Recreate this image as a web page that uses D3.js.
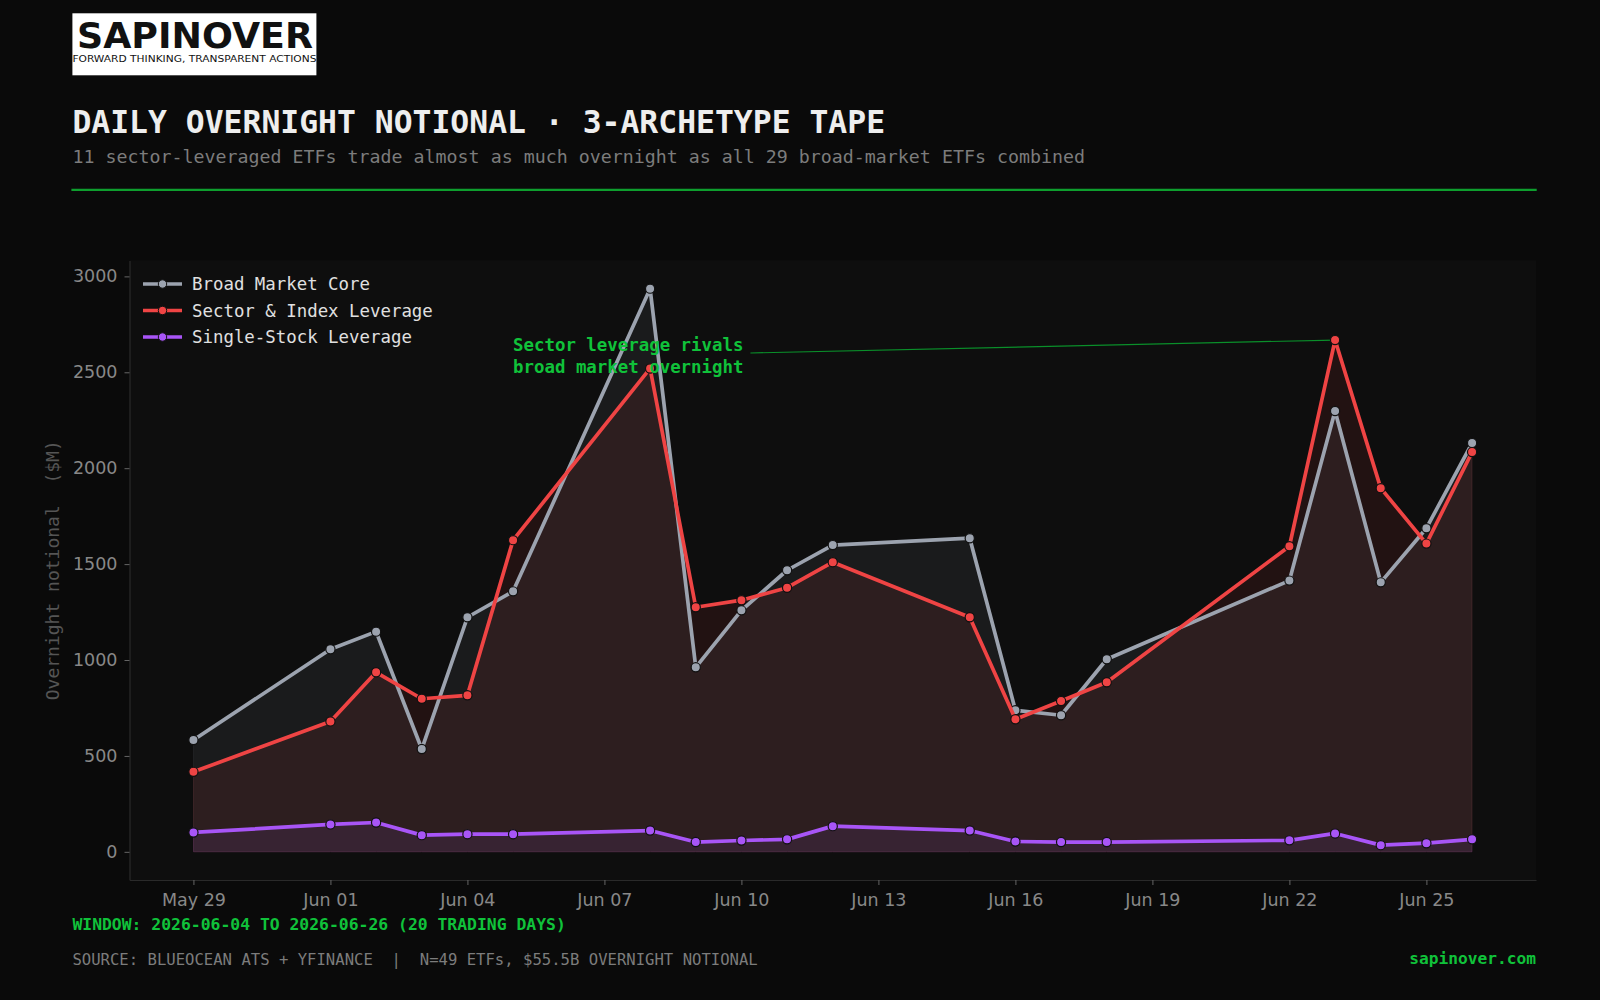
<!DOCTYPE html>
<html>
<head>
<meta charset="utf-8">
<script src="https://cdn.jsdelivr.net/npm/d3@7"></script>
<style>
  html, body { margin: 0; padding: 0; background: #0a0a0a; }
  svg { display: block; }
</style>
</head>
<body>
<svg id="chart" width="1600" height="1000"></svg>
<script>
// trading days shown on the tape (Jun 19 holiday skipped)
const dates = ["2026-05-29", "2026-06-01", "2026-06-02", "2026-06-03", "2026-06-04",
  "2026-06-05", "2026-06-08", "2026-06-09", "2026-06-10", "2026-06-11", "2026-06-12",
  "2026-06-15", "2026-06-16", "2026-06-17", "2026-06-18", "2026-06-22", "2026-06-23",
  "2026-06-24", "2026-06-25", "2026-06-26"];

// overnight notional, $M
const broadMarket = [583, 1056, 1148, 536, 1223, 1358, 2936, 962, 1259, 1468, 1599,
  1635, 738, 712, 1004, 1414, 2298, 1405, 1687, 2131];
const sectorLeverage = [417, 680, 936, 798, 816, 1625, 2520, 1275, 1312, 1377, 1510,
  1223, 691, 786, 884, 1593, 2668, 1896, 1607, 2084];
const singleStock = [101, 143, 153, 87, 92, 92, 111, 51, 59, 65, 134,
  111, 54, 51, 51, 60, 96, 35, 45, 65];

const seriesNames = ["Broad Market Core", "Sector & Index Leverage", "Single-Stock Leverage"];
const seriesColors = ["#9ca3af", "#ef4444", "#a855f7"];

const xTickDates = ["2026-05-29", "2026-06-01", "2026-06-04", "2026-06-07", "2026-06-10",
  "2026-06-13", "2026-06-16", "2026-06-19", "2026-06-22", "2026-06-25"];
const yTicks = [0, 500, 1000, 1500, 2000, 2500, 3000];

const annotationLines = ["Sector leverage rivals", "broad market overnight"];
const annotationAnchor = { date: "2026-06-05", value: 2585 };
const annotationTarget = { date: "2026-06-23", series: 1 };

const MONO = "'DejaVu Sans Mono', monospace";
const SANS = "'DejaVu Sans', sans-serif";
const GREEN = "#10c23a";

window.onload = main;

function main() {
  const svg = d3.select("#chart");
  const parse = d3.timeParse("%Y-%m-%d");
  const days = dates.map(parse);
  const values = [broadMarket, sectorLeverage, singleStock];

  const plot = { left: 129.5, right: 1536, top: 260.5, bottom: 880 };

  drawHeader(svg);

  // matplotlib style 5% margins
  const [d0, d1] = d3.extent(days);
  const span = d1 - d0;
  const x = d3.scaleTime()
    .domain([new Date(+d0 - span * 0.05), new Date(+d1 + span * 0.05)])
    .range([plot.left, plot.right]);
  const yMax = d3.max(values.flat());
  const y = d3.scaleLinear()
    .domain([-yMax * 0.05, yMax * 1.05])
    .range([plot.bottom, plot.top]);

  svg.append("rect")
    .attr("x", plot.left).attr("y", plot.top)
    .attr("width", plot.right - plot.left).attr("height", plot.bottom - plot.top)
    .attr("fill", "#0e0e0e");

  // axes
  const xAxis = d3.axisBottom(x)
    .tickValues(xTickDates.map(parse))
    .tickFormat(d3.timeFormat("%b %d"))
    .tickSizeInner(5).tickSizeOuter(0).tickPadding(7);
  const gx = svg.append("g")
    .attr("transform", `translate(0,${plot.bottom})`)
    .call(xAxis);
  styleAxis(gx);
  gx.selectAll("text").attr("dy", "0.8em");

  const yAxis = d3.axisLeft(y)
    .tickValues(yTicks)
    .tickFormat(d3.format("d"))
    .tickSizeInner(5).tickSizeOuter(0).tickPadding(7);
  const gy = svg.append("g")
    .attr("transform", `translate(${plot.left},0)`)
    .call(yAxis);
  styleAxis(gy);

  svg.append("text")
    .attr("transform", `translate(52,${(plot.top + plot.bottom) / 2}) rotate(-90)`)
    .attr("text-anchor", "middle")
    .attr("dominant-baseline", "central")
    .attr("font-family", MONO)
    .attr("font-size", 18)
    .attr("fill", "#555")
    .style("white-space", "pre")
    .text("Overnight notional  ($M)");

  // filled areas
  const area = d3.area()
    .x((d, i) => x(days[i]))
    .y0(y(0))
    .y1((d) => y(d));
  values.forEach((vals, k) => {
    svg.append("path")
      .datum(vals)
      .attr("d", area)
      .attr("fill", seriesColors[k])
      .attr("fill-opacity", 0.09)
      .attr("stroke", seriesColors[k])
      .attr("stroke-opacity", 0.09)
      .attr("stroke-width", 1);
  });

  // annotation connector sits under the lines
  const ti = dates.indexOf(annotationTarget.date);
  const connector = svg.append("line")
    .attr("x2", x(days[ti]))
    .attr("y2", y(values[annotationTarget.series][ti]))
    .attr("stroke", "#0a8f2a")
    .attr("stroke-width", 1.2);

  // lines + markers
  const line = d3.line()
    .x((d, i) => x(days[i]))
    .y((d) => y(d));
  values.forEach((vals, k) => {
    const g = svg.append("g");
    g.append("path")
      .datum(vals)
      .attr("d", line)
      .attr("fill", "none")
      .attr("stroke", seriesColors[k])
      .attr("stroke-width", 3.7)
      .attr("stroke-linejoin", "round");
    g.selectAll("circle")
      .data(vals)
      .enter()
      .append("circle")
      .attr("cx", (d, i) => x(days[i]))
      .attr("cy", (d) => y(d))
      .attr("r", 4.6)
      .attr("fill", seriesColors[k])
      .attr("stroke", "#111")
      .attr("stroke-width", 1.2);
  });

  // legend
  const legend = svg.append("g").attr("transform", "translate(143,284)");
  seriesNames.forEach((name, k) => {
    const row = legend.append("g").attr("transform", `translate(0,${k * 26.5})`);
    row.append("line")
      .attr("x1", 0).attr("x2", 39)
      .attr("stroke", seriesColors[k]).attr("stroke-width", 3.7);
    row.append("circle")
      .attr("cx", 19.5).attr("r", 4.2)
      .attr("fill", seriesColors[k]).attr("stroke", "#111").attr("stroke-width", 1);
    row.append("text")
      .attr("x", 49)
      .attr("dominant-baseline", "central")
      .attr("font-family", MONO)
      .attr("font-size", 17.4)
      .attr("fill", "#e0e0e0")
      .text(name);
  });

  // annotation text
  const ax = x(parse(annotationAnchor.date));
  const ay = y(annotationAnchor.value);
  const note = svg.append("text")
    .attr("font-family", MONO)
    .attr("font-size", 17.4)
    .attr("font-weight", "bold")
    .attr("fill", GREEN);
  annotationLines.forEach((t, i) => {
    note.append("tspan")
      .attr("x", ax)
      .attr("y", ay + (i - 0.5) * 21.5)
      .attr("dominant-baseline", "central")
      .text(t);
  });
  const bb = note.node().getBBox();
  connector
    .attr("x1", bb.x + bb.width + 7)
    .attr("y1", bb.y + bb.height / 2 - 3);

  drawFooter(svg);
}

function styleAxis(g) {
  g.select(".domain").attr("stroke", "#2a2a2a").attr("stroke-width", 1.2);
  g.selectAll(".tick line").attr("stroke", "#666").attr("stroke-width", 1);
  g.selectAll(".tick text")
    .attr("fill", "#888")
    .attr("font-family", SANS)
    .attr("font-size", 17.5);
}

function drawHeader(svg) {
  const logo = svg.append("g");
  logo.append("rect")
    .attr("x", 72.4).attr("y", 13.3)
    .attr("width", 244).attr("height", 62)
    .attr("fill", "#ffffff");
  logo.append("text")
    .attr("x", 77).attr("y", 48)
    .attr("textLength", 236)
    .attr("lengthAdjust", "spacingAndGlyphs")
    .attr("font-family", SANS)
    .attr("font-weight", "bold")
    .attr("font-size", 35)
    .attr("fill", "#111")
    .text("SAPINOVER");
  logo.append("text")
    .attr("x", 72.4).attr("y", 62)
    .attr("textLength", 244)
    .attr("lengthAdjust", "spacingAndGlyphs")
    .attr("font-family", SANS)
    .attr("font-size", 9)
    .attr("fill", "#111")
    .text("FORWARD THINKING, TRANSPARENT ACTIONS");

  svg.append("text")
    .attr("x", 72.4).attr("y", 132.5)
    .attr("font-family", MONO)
    .attr("font-weight", "bold")
    .attr("font-size", 31.4)
    .attr("fill", "#eeeeee")
    .text("DAILY OVERNIGHT NOTIONAL \u00b7 3-ARCHETYPE TAPE");

  svg.append("text")
    .attr("x", 72.4).attr("y", 163)
    .attr("font-family", MONO)
    .attr("font-size", 18.3)
    .attr("fill", "#7c7c7c")
    .text("11 sector-leveraged ETFs trade almost as much overnight as all 29 broad-market ETFs combined");

  svg.append("line")
    .attr("x1", 71.4).attr("x2", 1536.7)
    .attr("y1", 189.8).attr("y2", 189.8)
    .attr("stroke", "#0e9e2e")
    .attr("stroke-width", 2.2);
}

function drawFooter(svg) {
  svg.append("text")
    .attr("x", 72.4).attr("y", 930)
    .attr("font-family", MONO)
    .attr("font-weight", "bold")
    .attr("font-size", 16.4)
    .attr("fill", GREEN)
    .text("WINDOW: 2026-06-04 TO 2026-06-26 (20 TRADING DAYS)");

  svg.append("text")
    .attr("x", 72.4).attr("y", 964.5)
    .attr("font-family", MONO)
    .attr("font-size", 15.6)
    .attr("fill", "#7c7c7c")
    .style("white-space", "pre")
    .text("SOURCE: BLUEOCEAN ATS + YFINANCE  |  N=49 ETFs, $55.5B OVERNIGHT NOTIONAL");

  svg.append("text")
    .attr("x", 1536).attr("y", 964)
    .attr("text-anchor", "end")
    .attr("font-family", MONO)
    .attr("font-weight", "bold")
    .attr("font-size", 16.2)
    .attr("fill", GREEN)
    .text("sapinover.com");
}
</script>
</body>
</html>
